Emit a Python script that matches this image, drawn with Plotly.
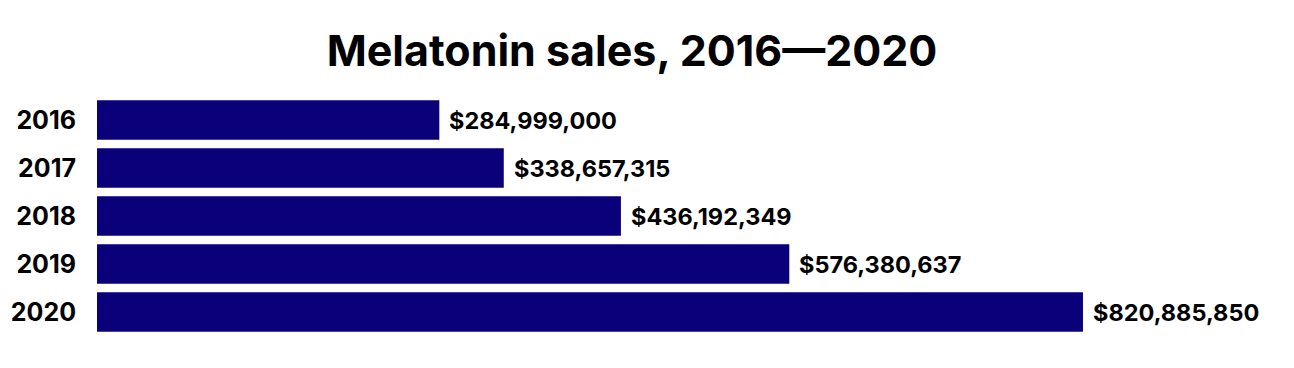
import plotly.graph_objects as go

years = ["2016", "2017", "2018", "2019", "2020"]
sales = [284999000, 338657315, 436192349, 576380637, 820885850]
labels = ["$284,999,000", "$338,657,315", "$436,192,349", "$576,380,637", "$820,885,850"]

FONT = "Inter"
BAR = "#0a007a"

fig = go.Figure()
fig.add_trace(go.Bar(
    y=years, x=sales, orientation="h",
    marker=dict(color=BAR, line=dict(width=0)),
    hoverinfo="skip",
))
for i, (v, t) in enumerate(zip(sales, labels)):
    fig.add_annotation(x=v, y=i, text=t, showarrow=False, xanchor="left",
                       xshift=8, font=dict(family=FONT, size=23.5, color="#000"))

fig.update_layout(
    width=1294, height=368,
    margin=dict(l=89, r=124, t=88, b=40, pad=0, autoexpand=False),
    paper_bgcolor="white", plot_bgcolor="white",
    bargap=0.18,
    showlegend=False,
    title=dict(text="<b>Melatonin sales, 2016\u20142020</b>", x=624 / 1294, xanchor="center",
               yref="container", y=1 - 43 / 368, yanchor="middle",
               font=dict(family=FONT, size=43, color="#000")),
    xaxis=dict(range=[0, 9e8], visible=False, fixedrange=True, automargin=False),
    yaxis=dict(type="category", range=[len(years) - 0.5, -0.5], showgrid=False,
               zeroline=False, showline=False, ticks="", ticklabelstandoff=20,
               fixedrange=True, automargin=False,
               tickfont=dict(family=FONT, size=25, color="#000", weight="bold")),
)
fig.update_annotations(font_weight="bold")
fig.write_html("out.html")
